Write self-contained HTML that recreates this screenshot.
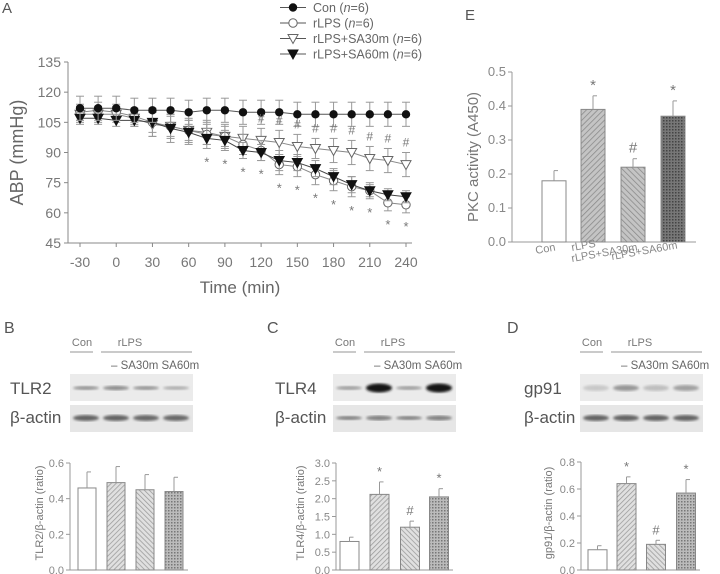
<!DOCTYPE html>
<html><head><meta charset="utf-8"><style>
html,body{margin:0;padding:0;background:#fff}
svg{display:block;font-family:"Liberation Sans",sans-serif}
</style></head><body>
<svg id="fig" width="720" height="574" viewBox="0 0 720 574" xmlns="http://www.w3.org/2000/svg">
<defs>
<pattern id="hatchA" width="3.5" height="3.5" patternUnits="userSpaceOnUse" patternTransform="rotate(45)"><rect width="4" height="4" fill="#e0e0e0"/><line x1="0" y1="0" x2="0" y2="4" stroke="#999" stroke-width="1.5"/></pattern>
<pattern id="hatchB" width="3.5" height="3.5" patternUnits="userSpaceOnUse" patternTransform="rotate(-45)"><rect width="4" height="4" fill="#e0e0e0"/><line x1="0" y1="0" x2="0" y2="4" stroke="#999" stroke-width="1.5"/></pattern>
<pattern id="dotsC" width="3" height="3" patternUnits="userSpaceOnUse"><rect width="3" height="3" fill="#bbb"/><rect width="1.5" height="1.5" fill="#777"/></pattern>
<pattern id="hatchEA" width="4" height="4" patternUnits="userSpaceOnUse" patternTransform="rotate(45)"><rect width="4" height="4" fill="#c4c4c4"/><line x1="0" y1="0" x2="0" y2="4" stroke="#888" stroke-width="1.5"/></pattern>
<pattern id="hatchEB" width="4" height="4" patternUnits="userSpaceOnUse" patternTransform="rotate(-45)"><rect width="4" height="4" fill="#c4c4c4"/><line x1="0" y1="0" x2="0" y2="4" stroke="#888" stroke-width="1.5"/></pattern>
<pattern id="dotsE" width="3" height="3" patternUnits="userSpaceOnUse"><rect width="3" height="3" fill="#777"/><rect width="1.5" height="1.5" fill="#444"/></pattern>
<filter id="blur"><feGaussianBlur stdDeviation="1.3"/></filter>
</defs>
</svg>
<script>
// ---------- Panel A data ----------
const times=[-30,-15,0,15,30,45,60,75,90,105,120,135,150,165,180,195,210,225,240];
const conVals=[112,112,112,111,111,111,110,111,111,110,110,110,109,109,109,109,109,109,109];
const lpsVals=[110,111,110,108,105,103,101,99,98,94,91,84,83,79,76,73,71,65,64];
const sa30Vals=[109,109,109,107,104,103,101,100,98,97,96,95,93,92,91,90,87,86,84];
const sa60Vals=[107,107,106,106,105,102,100,97,96,91,90,86,85,82,78,74,71,69,68];
const conErr=[6,6,6,6,6,6,6,6,6,6,6,6,6,6,6,6,6,6,6];
const lpsErr=[4,4,4,4,5,5,5,5,5,5,5,5,5,5,5,5,4,4,4];
const sa30Err=[4,4,4,4,6,6,6,6,6,6,6,6,6,5,6,6,6,6,6];
const sa60Err=[3,3,3,3,7,7,6,5,5,4,4,5,4,4,4,4,3,3,3];
const starTimes=[75,90,105,120,135,150,165,180,195,210,225,240];
const hashTimes=[120,135,150,165,180,195,210,225,240];
const aYTicks=[45,60,75,90,105,120,135];
const aXTicks=[-30,0,30,60,90,120,150,180,210,240];
// ---------- Bar panels data ----------
const barCats=["Con","rLPS","rLPS+SA30m","rLPS+SA60m"];
const eVals=[0.18,0.39,0.22,0.37];
const eErr=[0.03,0.04,0.025,0.045];
const eMarks=["","*","#","*"];
const eTicks=[0,0.1,0.2,0.3,0.4,0.5];
const bVals=[0.46,0.49,0.45,0.44];
const bErr=[0.09,0.09,0.085,0.08];
const bMarks=["","","",""];
const bTicks=[0,0.2,0.4,0.6];
const cVals=[0.8,2.12,1.2,2.05];
const cErr=[0.12,0.35,0.17,0.23];
const cMarks=["","*","#","*"];
const cTicks=[0,0.5,1.0,1.5,2.0,2.5,3.0];
const dVals=[0.15,0.64,0.19,0.57];
const dErr=[0.03,0.05,0.03,0.10];
const dMarks=["","*","#","*"];
const dTicks=[0,0.2,0.4,0.6,0.8];

const NS="http://www.w3.org/2000/svg";
const svg=document.getElementById('fig');
function mk(tag,attrs,parent,text){const e=document.createElementNS(NS,tag);for(const k in attrs)e.setAttribute(k,attrs[k]);if(text!==undefined)e.textContent=text;(parent||svg).appendChild(e);return e;}
function grp(name,parent){const g=mk('g',{},parent);


return g;}

// ---------- Panel A ----------
const gA=grp('panel-a-line-chart');
const ax=t=>80+(t+30)*(326/270);
const ay=v=>243-(v-45)*(181/90);
let t=mk('text',{x:2,y:13,'font-size':15,fill:'#555'},gA,'A');


const axA=mk('path',{d:`M68,${ay(135)} V243 H412`,stroke:'#888',fill:'none','stroke-width':1},gA);


aYTicks.forEach(v=>{mk('line',{x1:64,x2:68,y1:ay(v),y2:ay(v),stroke:'#888'},gA);
const l=mk('text',{x:61,y:ay(v)+5,'font-size':14,fill:'#777','text-anchor':'end'},gA,String(v));

});
aXTicks.forEach(v=>{mk('line',{x1:ax(v),x2:ax(v),y1:243,y2:247,stroke:'#888'},gA);
const l=mk('text',{x:ax(v),y:267,'font-size':14,fill:'#777','text-anchor':'middle'},gA,String(v));

});
t=mk('text',{x:240,y:293,'font-size':17,fill:'#666','text-anchor':'middle'},gA,'Time (min)');


t=mk('text',{x:0,y:0,'font-size':18,fill:'#666','text-anchor':'middle',transform:`translate(23,${ay(90)}) rotate(-90)`},gA,'ABP (mmHg)');



function marker(g,kind,x,y){
 if(kind==='con')return mk('circle',{cx:x,cy:y,r:4.2,fill:'#111'},g);
 if(kind==='lps')return mk('circle',{cx:x,cy:y,r:4.2,fill:'#fff',stroke:'#666','stroke-width':1},g);
 const fill=kind==='sa60'?'#111':'#fff';
 return mk('path',{d:`M${x-5},${y-4} L${x+5},${y-4} L${x},${y+5} Z`,fill:fill,stroke:kind==='sa60'?'#111':'#666','stroke-width':1},g);
}
const series=[['sa30',sa30Vals,sa30Err,'#888'],['lps',lpsVals,lpsErr,'#888'],['sa60',sa60Vals,sa60Err,'#444'],['con',conVals,conErr,'#555']];
series.forEach(([k,vals,err,col])=>{
 const g=grp('series-'+k,gA);
 vals.forEach((v,i)=>{const x=ax(times[i]);const y1=ay(v+err[i]),y2=ay(v-err[i]);
  mk('line',{x1:x,x2:x,y1:y1,y2:y2,stroke:'#999','stroke-width':1},g);
  mk('line',{x1:x-4,x2:x+4,y1:y1,y2:y1,stroke:'#999'},g);
  mk('line',{x1:x-4,x2:x+4,y1:y2,y2:y2,stroke:'#999'},g);});
 mk('polyline',{points:vals.map((v,i)=>ax(times[i])+','+ay(v)).join(' '),fill:'none',stroke:col,'stroke-width':1},g);
 vals.forEach((v,i)=>{const m=marker(g,k,ax(times[i]),ay(v));
 
 });
});
starTimes.forEach(tt=>{const i=times.indexOf(tt);
 const lo=Math.min(lpsVals[i]-lpsErr[i],sa60Vals[i]-sa60Err[i]);
 const s=mk('text',{x:ax(tt),y:ay(lo-6)+6,'font-size':13,fill:'#777','text-anchor':'middle'},gA,'*');
 
 });
hashTimes.forEach(tt=>{const i=times.indexOf(tt);
 const s=mk('text',{x:ax(tt),y:ay(sa30Vals[i]+sa30Err[i]+3),'font-size':12,fill:'#777','text-anchor':'middle'},gA,'#');
 
 });
// legend
const legend=[['con','Con '],['lps','rLPS '],['sa30','rLPS+SA30m '],['sa60','rLPS+SA60m ']];
const gL=grp('legend',gA);
legend.forEach(([k,a],i)=>{const y=7.5+i*15.5;
 const ge=grp('legend-entry',gL);
 mk('line',{x1:280,x2:306,y1:y,y2:y,stroke:'#555'},ge);marker(ge,k,293,y);
 const tx=mk('text',{x:313,y:y+4.5,'font-size':12.5,fill:'#666'},ge);
 mk('tspan',{},tx,a+'(');mk('tspan',{'font-style':'italic'},tx,'n');mk('tspan',{},tx,'=6)');});

// ---------- generic bar chart ----------
function barChart(name,opt){
 const g=grp(name);
 const y=v=>opt.y0-v*opt.k;
 const a=mk('path',{d:`M${opt.ax},${y(opt.ticks[opt.ticks.length-1])} V${opt.y0} H${opt.axEnd}`,stroke:'#999',fill:'none'},g);
 
 
 opt.ticks.forEach(v=>{mk('line',{x1:opt.ax-4,x2:opt.ax,y1:y(v),y2:y(v),stroke:'#999'},g);
  const l=mk('text',{x:opt.ax-6,y:y(v)+4,'font-size':opt.fs,fill:'#888','text-anchor':'end'},g,v.toFixed(opt.dec));
  
  });
 opt.vals.forEach((v,i)=>{const cx=opt.cx[i],w=opt.w;
  const r=mk('rect',{x:cx-w/2,y:y(v),width:w,height:v*opt.k,fill:opt.fills[i],stroke:'#888','stroke-width':1},g);
  
  
  const te=y(v+opt.err[i]);
  mk('line',{x1:cx,x2:cx,y1:y(v),y2:te,stroke:'#999'},g);
  mk('line',{x1:cx,x2:cx+4,y1:te,y2:te,stroke:'#999'},g);
  if(opt.marks[i]){const s=mk('text',{x:cx,y:te-6,'font-size':opt.fs+2,fill:'#777','text-anchor':'middle'},g,opt.marks[i]);
  
  }
 });
 const yl=mk('text',{x:0,y:0,'font-size':opt.lfs,fill:'#777','text-anchor':'middle',transform:`translate(${opt.lx},${opt.ly}) rotate(-90)`},g,opt.label);
 
 
 return g;
}
const fillsBD=['#fff','url(#hatchA)','url(#hatchB)','url(#dotsC)'];
const fillsE=['#fff','url(#hatchEA)','url(#hatchEB)','url(#dotsE)'];
const gE=barChart('panel-e-bar-chart',{vals:eVals,err:eErr,marks:eMarks,ticks:eTicks,dec:1,y0:242,k:340,ax:512,axEnd:696,cx:[554,593,633,673],w:24,fills:fillsE,fs:13,lfs:15,lx:478,ly:157,label:'PKC activity (A450)'});
t=mk('text',{x:465,y:20,'font-size':15,fill:'#555'},gE,'E');


[['Con',536,254],['rLPS',572,251],['rLPS+SA30m',572,262],['rLPS+SA60m',612,260]].forEach(([s,x,y])=>{
 const l=mk('text',{x:x,y:y,'font-size':11,fill:'#888',transform:`rotate(-10 ${x} ${y})`},gE,s);
 
 });
barChart('panel-b-bar-chart',{vals:bVals,err:bErr,marks:bMarks,ticks:bTicks,dec:1,y0:570,k:107/0.6,ax:70,axEnd:188,cx:[87,116,145,174],w:18,fills:fillsBD,fs:11,lfs:11,lx:43,ly:513,label:'TLR2/β-actin (ratio)'});
barChart('panel-c-bar-chart',{vals:cVals,err:cErr,marks:cMarks,ticks:cTicks,dec:1,y0:570,k:107/3,ax:336,axEnd:453,cx:[349.5,379.5,410,439],w:19,fills:fillsBD,fs:11,lfs:11,lx:304,ly:513,label:'TLR4/β-actin (ratio)'});
barChart('panel-d-bar-chart',{vals:dVals,err:dErr,marks:dMarks,ticks:dTicks,dec:1,y0:570,k:108/0.8,ax:581,axEnd:700,cx:[597.5,626.5,656,686],w:19,fills:fillsBD,fs:11,lfs:11,lx:552,ly:513,label:'gp91/β-actin (ratio)'});

// ---------- Western blots ----------
function blot(name,letter,lx,bx,prot,protX,bandsP,bandsA){
 const g=grp(name);
 let s=mk('text',{x:lx,y:333,'font-size':16,fill:'#555'},g,letter);
 
 
 mk('text',{x:bx+12,y:346,'font-size':11,fill:'#777','text-anchor':'middle'},g,'Con');
 mk('text',{x:bx+60,y:346,'font-size':11,fill:'#777','text-anchor':'middle'},g,'rLPS');
 mk('line',{x1:bx,x2:bx+23,y1:352,y2:352,stroke:'#aaa','stroke-width':1.2},g);
 mk('line',{x1:bx+31,x2:bx+122,y1:352,y2:352,stroke:'#aaa','stroke-width':1.2},g);
 mk('text',{x:bx+41,y:369,'font-size':11.5,fill:'#666'},g,'–  SA30m SA60m');
 mk('text',{x:protX,y:394,'font-size':17,fill:'#555'},g,prot);
 mk('text',{x:protX,y:423,'font-size':17,fill:'#555'},g,'β-actin');
 const r1=mk('rect',{x:bx,y:374,width:123,height:27,fill:'#ebebeb'},g);
 
 
 const r2=mk('rect',{x:bx,y:405,width:123,height:27,fill:'#e6e6e6'},g);
 
 
 [0,1,2,3].forEach(i=>{const cx=bx+16+i*30;
  mk('ellipse',{cx:cx,cy:388,rx:13,ry:bandsP[i][1],fill:`rgb(${bandsP[i][0]},${bandsP[i][0]},${bandsP[i][0]})`,filter:'url(#blur)'},g);
  mk('ellipse',{cx:cx,cy:418,rx:13,ry:bandsA[i][1],fill:`rgb(${bandsA[i][0]},${bandsA[i][0]},${bandsA[i][0]})`,filter:'url(#blur)'},g);});
}
blot('panel-b-blot','B',4,70,'TLR2',10,[[150,2],[140,2.2],[150,2],[170,1.8]],[[100,3],[100,3],[105,3],[105,3]]);
blot('panel-c-blot','C',267,333,'TLR4',275,[[160,2],[20,4.5],[160,2],[20,4.5]],[[130,2],[130,2.5],[130,2],[130,2.5]]);
blot('panel-d-blot','D',507,580,'gp91',524,[[200,3],[150,3],[190,3],[160,3]],[[100,3],[100,3],[100,3],[100,3]]);
</script>
</body></html>
